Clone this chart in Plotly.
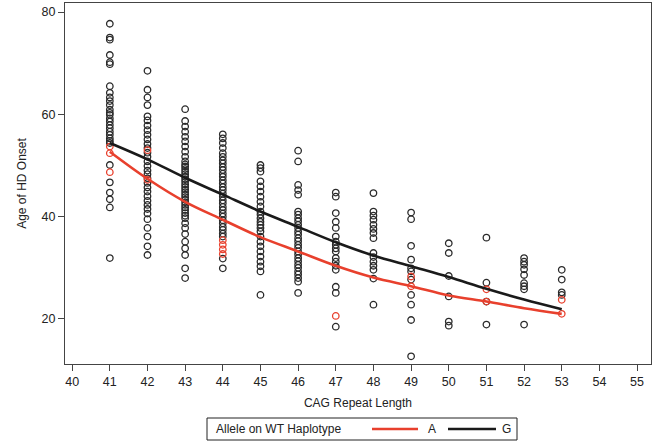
import plotly.graph_objects as go

# ---- data ----
cag_ticks = list(range(40, 56))

g41 = [77.7, 75.0, 74.6, 71.6, 70.2, 69.8, 65.5, 64.2, 63.3, 62.6, 61.8, 60.9, 60.3, 59.9, 59.2, 58.6,
       57.9, 57.3, 56.6, 56.0, 55.3, 54.8, 54.4, 50.1, 46.7, 44.7, 43.4, 41.8, 31.9]
g42 = [68.5, 64.8, 63.3, 61.8, 59.6, 58.8, 57.8, 56.9, 56.0, 55.1, 54.2, 53.4, 52.5, 51.7, 50.8, 49.9,
       49.0, 48.3, 47.5, 46.6, 45.7, 44.9, 44.0, 43.1, 42.3, 41.5, 40.6, 39.5, 37.8, 36.1, 34.2, 32.5]
g43 = [61.0, 58.7, 57.6, 56.6, 55.6, 54.7, 53.7, 52.7, 51.7, 50.8, 50.2, 49.8, 49.3, 48.8, 48.3, 47.8,
       47.3, 46.8, 46.3, 45.8, 45.3, 44.8, 44.3, 43.8, 43.3, 42.8, 42.3, 41.8, 41.3, 40.7, 40.2, 39.7,
       38.7, 37.8, 36.6, 35.1, 33.8, 32.5, 29.9, 28.0]
g44 = [56.1, 55.3, 54.4, 53.4, 52.4, 51.7, 51.0, 50.4, 49.7, 49.1, 48.4, 47.8, 47.1, 46.5, 45.8, 45.2,
       44.5, 43.9, 43.2, 42.6, 41.9, 41.3, 40.6, 40.0, 39.3, 38.7, 38.0, 37.4, 36.7, 36.1, 31.8, 29.9]
g45 = [50.1, 49.5, 48.8, 46.9, 45.9, 44.9, 43.9, 42.9, 42.0, 41.0, 40.4, 39.7, 39.0, 38.4, 37.8, 37.1,
       36.1, 35.1, 34.2, 33.2, 32.2, 31.2, 30.3, 29.3, 24.7]
g46 = [52.9, 50.8, 46.2, 45.2, 44.3, 41.0, 40.4, 39.7, 39.1, 38.4, 37.8, 37.1, 36.5, 35.8, 35.2, 34.5,
       33.9, 33.2, 32.6, 31.9, 31.3, 30.6, 30.0, 29.3, 28.7, 28.0, 27.3, 25.1]
g47 = [44.7, 43.9, 40.7, 39.0, 37.8, 36.1, 35.1, 34.5, 33.8, 33.2, 31.9, 31.2, 30.4, 29.6, 26.3, 25.1, 18.5]
g48 = [44.6, 41.0, 40.2, 39.4, 38.4, 37.6, 36.8, 35.8, 32.9, 32.1, 31.2, 30.4, 29.6, 27.9, 22.8]
g49 = [40.8, 39.5, 34.3, 31.6, 29.9, 29.3, 27.7, 24.7, 22.8, 19.8, 12.7]
g50 = [34.8, 32.9, 28.4, 24.4, 19.5, 18.7]
g51 = [35.9, 27.1, 23.4, 18.9]
g52 = [31.9, 31.2, 30.6, 29.7, 28.6, 27.0, 26.4, 25.8, 18.9]
g53 = [29.6, 27.7, 25.2, 24.7]

a_cag = [41, 41, 41, 42, 42, 44, 44, 44, 44, 47, 49, 49, 51, 51, 53, 53]
a_age = [53.7, 52.4, 48.7, 53.0, 47.2, 35.4, 34.5, 33.6, 32.7, 20.6, 28.3, 26.4, 25.8, 23.4, 23.75, 21.0]

curve_cag = [41, 42, 43, 44, 45, 46, 47, 48, 49, 50, 51, 52, 53]
curve_a = [52.7, 47.4, 42.9, 39.4, 36.0, 33.2, 30.4, 28.1, 26.4, 24.6, 23.4, 22.1, 21.0]
curve_g = [54.4, 51.2, 47.6, 44.3, 41.0, 38.0, 35.0, 32.4, 30.3, 28.2, 25.9, 23.8, 21.9]

legend_title = "Allele on WT Haplotype"
legend_names = ["A", "G"]

g_cols = [(41, g41), (42, g42), (43, g43), (44, g44), (45, g45), (46, g46), (47, g47),
          (48, g48), (49, g49), (50, g50), (51, g51), (52, g52), (53, g53)]
g_cag, g_age = [], []
for k, vals in g_cols:
    g_cag += [k] * len(vals)
    g_age += vals

RED = "#e8402d"
BLACK = "#1a1a1a"
FONT = "Liberation Sans, Arial, sans-serif"

fig = go.Figure()
fig.add_trace(go.Scatter(x=g_cag, y=g_age, mode="markers", showlegend=False,
                         marker=dict(symbol="circle-open", size=6.5, color="#2a2a2a",
                                     line=dict(width=1.3))))
fig.add_trace(go.Scatter(x=a_cag, y=a_age, mode="markers", showlegend=False,
                         marker=dict(symbol="circle-open", size=6.5, color=RED,
                                     line=dict(width=1.3))))
fig.add_trace(go.Scatter(x=curve_cag, y=curve_a, mode="lines", name=legend_names[0], showlegend=False,
                         line=dict(color=RED, width=2.6, shape="spline")))
fig.add_trace(go.Scatter(x=curve_cag, y=curve_g, mode="lines", name=legend_names[1], showlegend=False,
                         line=dict(color=BLACK, width=2.6, shape="spline")))

# ---- legend box drawn below the plot (paper coordinates) ----
L, B, W, H = 65, 78, 586, 361
def px(xp):
    return (xp - L) / W
def py(yp):
    return (442 - B - yp) / H

shapes = [
    dict(type="rect", xref="paper", yref="paper", x0=px(207), x1=px(517), y0=py(440), y1=py(418),
         line=dict(color="#222", width=1), fillcolor="white"),
    dict(type="line", xref="paper", yref="paper", x0=px(372), x1=px(418), y0=py(429), y1=py(429),
         line=dict(color=RED, width=2.6)),
    dict(type="line", xref="paper", yref="paper", x0=px(448), x1=px(496), y0=py(429), y1=py(429),
         line=dict(color=BLACK, width=2.6)),
]
annotations = [
    dict(text=legend_title, xref="paper", yref="paper", x=px(214), y=py(429), xanchor="left",
         yanchor="middle", showarrow=False, font=dict(size=12, color="#222")),
    dict(text=legend_names[0], xref="paper", yref="paper", x=px(432), y=py(429), xanchor="center",
         yanchor="middle", showarrow=False, font=dict(size=12, color="#222")),
    dict(text=legend_names[1], xref="paper", yref="paper", x=px(506), y=py(429), xanchor="center",
         yanchor="middle", showarrow=False, font=dict(size=12, color="#222")),
]

fig.update_layout(
    width=660, height=442,
    margin=dict(l=L, r=660 - L - W, t=442 - B - H, b=B, autoexpand=False),
    paper_bgcolor="white", plot_bgcolor="white",
    font=dict(family=FONT, size=12, color="#222"),
    showlegend=False,
    shapes=shapes, annotations=annotations,
)
fig.update_xaxes(range=[39.81, 55.37], tickvals=cag_ticks, ticks="outside", ticklen=6,
                 tickcolor="#444", showline=True, linecolor="#444", linewidth=1, mirror=True,
                 showgrid=False, zeroline=False, tickfont=dict(size=12.5), automargin=False,
                 title=dict(text="CAG Repeat Length", font=dict(size=12), standoff=10))
fig.update_yaxes(range=[11.2, 81.76], tickvals=[20, 40, 60, 80], ticks="outside", ticklen=6,
                 tickcolor="#444", showline=True, linecolor="#444", linewidth=1, mirror=True,
                 showgrid=False, zeroline=False, tickfont=dict(size=12.5), automargin=False,
                 title=dict(text="Age of HD Onset", font=dict(size=12), standoff=12))

fig.write_html("out.html", config={"displayModeBar": False},
               post_script="document.body.style.margin='0';document.body.style.overflow='hidden';")
